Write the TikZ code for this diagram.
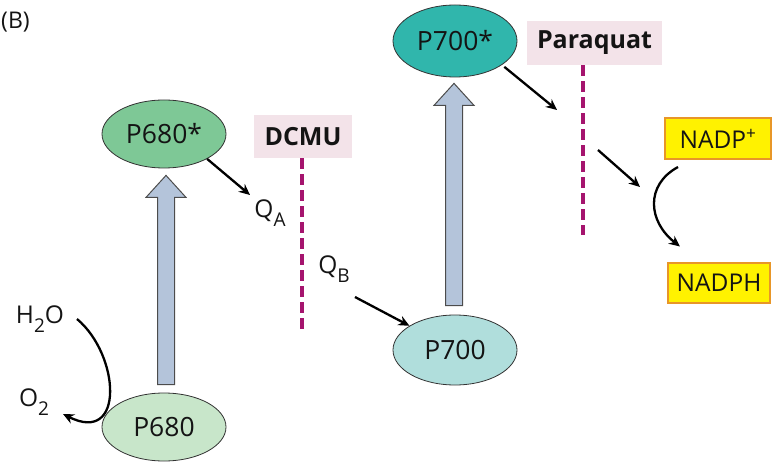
\documentclass[tikz,border=0pt]{standalone}
\usepackage{fontspec}
\setmainfont{Open Sans}
\usetikzlibrary{calc}
\usetikzlibrary{shapes.geometric}
\usetikzlibrary{arrows.meta}
\definecolor{cPsTwoStar}{RGB}{126, 200, 150}
\definecolor{cPsTwo}{RGB}{200, 230, 202}
\definecolor{cPsOneStar}{RGB}{48, 182, 172}
\definecolor{cPsOne}{RGB}{176, 222, 220}
\definecolor{cBlocker}{RGB}{243, 227, 233}
\definecolor{cBlockLine}{RGB}{165, 20, 110}
\definecolor{cNadp}{RGB}{255, 242, 0}
\definecolor{cNadpBorder}{RGB}{232, 150, 40}
\definecolor{cLight}{RGB}{180, 196, 218}
\colorlet{cText}{black!92}
\newcommand{\lowsub}[1]{\raisebox{-0.38em}{\fontsize{19}{22}\selectfont #1}}
\tikzset{
    edgeFlow/.style={
        arrows={-Stealth[length=11pt,width=10pt]},
        line width=2.3pt
    },
    nodeCentre/.style={
        shape=ellipse,
        draw=black!80,
        line width=0.8pt,
        minimum width=124pt,
        minimum height=68pt,
        text=cText,
        font=\fontsize{26.5}{31}\selectfont
    },
    nodeBlocker/.style={
        fill=cBlocker,
        text=cText,
        font=\bfseries\fontsize{25}{30}\selectfont
    },
    nodeNadp/.style={
        fill=cNadp,
        draw=cNadpBorder,
        line width=2pt,
        text=cText,
        font=\fontsize{24.5}{29}\selectfont
    },
    nodeCarrier/.style={
        text=cText,
        inner sep=1pt,
        font=\fontsize{24.5}{29}\selectfont
    },
    blockLine/.style={
        color=cBlockLine,
        line width=4pt,
        dash pattern=on 11pt off 5pt
    },
    lightArrow/.style={
        fill=cLight,
        draw=black!70,
        line width=1pt,
        line join=miter
    },
}

\begin{document}
\begin{tikzpicture}[x=1pt,y=-1pt]
    \useasboundingbox (0,0) rectangle (773,462);

    \node[anchor=west,inner sep=0pt,text=cText,font=\fontsize{23}{27}\selectfont] (panel) at (1, 22) {(B)};

    % reaction centres
    \node[nodeCentre,fill=cPsTwoStar] (p680s) at (164, 134) {P680*};
    \node[nodeCentre,fill=cPsTwo] (p680) at (164, 427) {P680};
    \node[nodeCentre,fill=cPsOneStar,minimum height=72pt] (p700s) at (455, 41) {P700*};
    \node[nodeCentre,fill=cPsOne,minimum height=70pt] (p700) at (455, 350) {P700};

    % inhibitors
    \node[nodeBlocker,minimum width=98pt,minimum height=43pt] (dcmu) at (303, 136.5) {DCMU};
    \node[nodeBlocker,minimum width=135pt,minimum height=44pt] (paraquat) at (594.5, 43) {Paraquat};

    \node[nodeNadp,minimum width=106pt,minimum height=41pt] (nadpp) at (718, 138.5) {NADP\textsuperscript{+}};
    \node[nodeNadp,minimum width=102pt,minimum height=40pt] (nadph) at (719, 282.5) {NADPH};

    \node[nodeCarrier] (qa) at (270, 213) {Q\lowsub{A}};
    \node[nodeCarrier] (qb) at (334, 269) {Q\lowsub{B}};
    \node[nodeCarrier] (h2o) at (40, 319) {H\lowsub{2}O};
    \node[nodeCarrier] (o2) at (34, 402) {O\lowsub{2}};

    \coordinate (dcmuEnd) at (302, 332);
    \coordinate (pqEnd) at (583, 235);
    \coordinate (qaTip) at (250, 195);
    \coordinate (qbOut) at (355, 297);
    \coordinate (pqIn) at (557, 110);
    \coordinate (pqOut) at (598, 150);
    \coordinate (nadpIn) at (640, 187);
    \coordinate (h2oOut) at (77, 319);
    \coordinate (o2In) at (63, 414);

    % light
    \newcommand{\lightUp}[2]{\draw[lightArrow] ($(#1)+(-8.5,0)$) -- ($(#2)+(-8.5,22)$) -- ($(#2)+(-20,22)$) -- (#2) -- ($(#2)+(20,22)$) -- ($(#2)+(8.5,22)$) -- ($(#1)+(8.5,0)$) -- cycle;}
    \coordinate (l680a) at ($(p680.north)+(2,-8)$);
    \coordinate (l680b) at ($(p680s.south)+(2,7)$);
    \coordinate (l700a) at ($(p700.north)+(-1,-9)$);
    \coordinate (l700b) at ($(p700s.south)+(-1,6)$);
    \lightUp{l680a}{l680b}
    \lightUp{l700a}{l700b}

    \draw[blockLine] (dcmu.south -| dcmuEnd) -- (dcmuEnd);
    \draw[blockLine] (paraquat.south -| pqEnd) -- (pqEnd);

    % electron flow
    \draw[edgeFlow] (p680s.-30) -- (qaTip);
    \draw[edgeFlow] (qbOut) -- (p700.152);
    \draw[edgeFlow,shorten <=3pt] (p700s.-27) -- (pqIn);
    \draw[edgeFlow] (pqOut) -- (nadpIn);
    \draw[edgeFlow] ([xshift=-40pt,yshift=-7pt]nadpp.south) .. controls +(-33,18) and +(-32,-25) .. ([xshift=-39pt,yshift=15pt]nadph.north);
    \draw[edgeFlow] (h2oOut) .. controls +(43,36) and +(62,31) .. (o2In);
\end{tikzpicture}
\end{document}
